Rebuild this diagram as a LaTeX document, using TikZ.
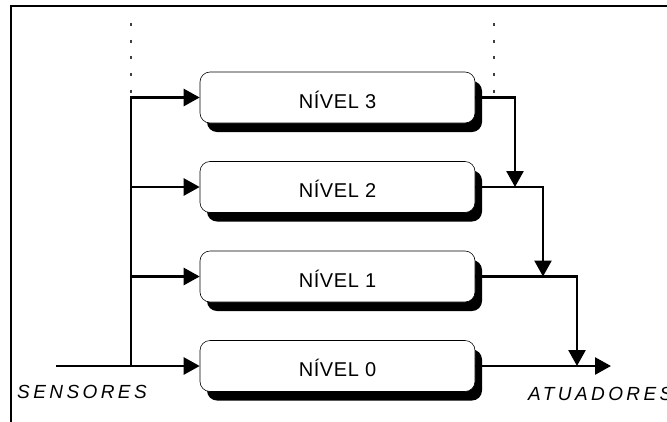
\documentclass[tikz,border=0pt]{standalone}
\usepackage{fontspec}
\setmainfont{Liberation Sans}
\newfontfamily\levelfont[LetterSpace=3]{Liberation Sans}
\newfontfamily\ioFont[LetterSpace=18]{Liberation Sans}
\usetikzlibrary{arrows.meta,shadows}

\tikzset{
  levelbox/.style={draw, line width=0.6pt, fill=white, rounded corners=10pt,
    minimum width=275pt, minimum height=51pt, inner sep=0pt,
    text height=21.4pt, text depth=0pt,
    font=\levelfont\fontsize{20}{22}\selectfont,
    general shadow={shadow xshift=7pt, shadow yshift=-9pt, fill=black}},
  flow/.style={line width=2.6pt, -{Triangle[length=16pt,width=17pt]}},
  wire/.style={line width=2.6pt},
  guide/.style={black!75, line width=1.2pt, dash pattern=on 3pt off 13.7pt},
  iolabel/.style={font=\ioFont\itshape\fontsize{19}{21}\selectfont, inner sep=0pt, anchor=base west}
}

\begin{document}
\begin{tikzpicture}[x=1pt, y=-1pt]
  \useasboundingbox (0,0) rectangle (667,421);
  \clip (0,0) rectangle (667,421);

  % outer frame (open at right and bottom)
  \draw[line width=2.4pt] (11,460) -- (11,6) -- (700,6);

  % dotted guides
  \draw[guide] (131,23) -- (131,93);
  \draw[guide] (494,23) -- (494,93);

  % level boxes
  \node[levelbox] (l3) at (337.5,97.5) {NÍVEL 3};
  \node[levelbox] (l2) at (337.5,187) {NÍVEL 2};
  \node[levelbox] (l1) at (337.5,276.5) {NÍVEL 1};
  \node[levelbox] (l0) at (337.5,366) {NÍVEL 0};

  % sensor input and trunk
  \coordinate (sin) at (56,366);
  \coordinate (t0) at (131,366);
  \coordinate (t1) at (131,276.5);
  \coordinate (t2) at (131,187);
  \coordinate (t3) at (131,97.5);
  \draw[wire] (t0) -- (t3 |- 0,96.2);
  \draw[flow] (sin) -- (l0.west);
  \draw[flow] (t1) -- (l1.west);
  \draw[flow] (t2) -- (l2.west);
  \draw[flow] (t3) -- (l3.west);

  % outputs merging towards the actuators
  \coordinate (m2) at (515,187);
  \coordinate (m1) at (543,276.5);
  \coordinate (m0) at (577,366);
  \coordinate (aout) at (611,366);
  \draw[flow] (l3.east) -| (m2);
  \draw[flow] (l2.east) -| (m1);
  \draw[flow] (l1.east) -| (m0);
  \draw[flow] (l0.east) -- (aout);

  % labels
  \node[iolabel] (sens) at (17,398.5) {SENSORES};
  \node[iolabel] (atua) at (528,400) {ATUADORES};
\end{tikzpicture}
\end{document}
